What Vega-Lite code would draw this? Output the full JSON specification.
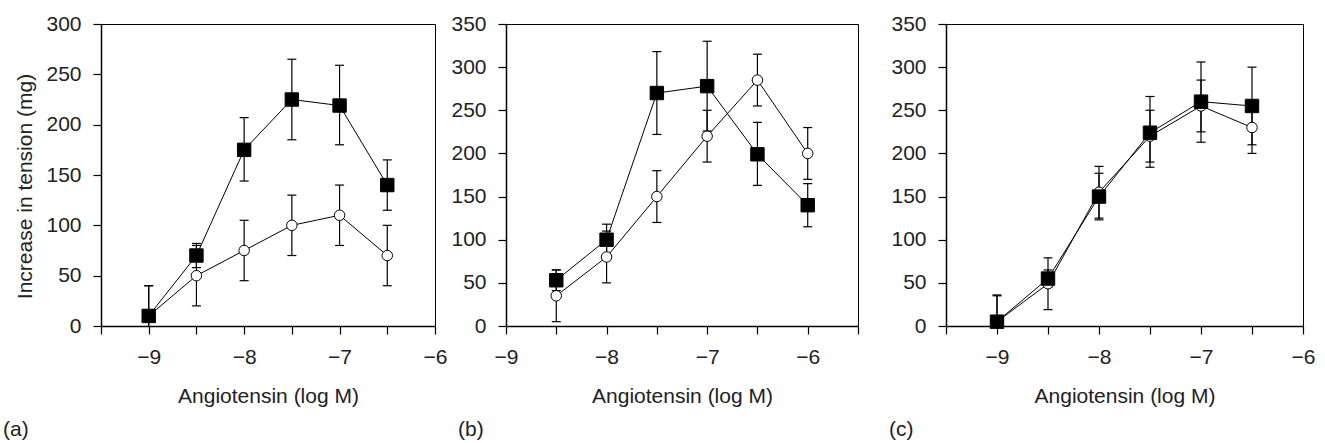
{
  "$schema": "https://vega.github.io/schema/vega-lite/v6.json",
  "background": "white",
  "padding": {"left": 2, "top": 12, "right": 5, "bottom": 2},
  "config": {
    "view": {"stroke": "black", "strokeWidth": 1},
    "axis": {"grid": false, "domainColor": "black", "domainWidth": 1.5, "tickColor": "black", "tickWidth": 1.2, "tickSize": 8, "labelFont": "Liberation Sans", "labelFontSize": 21, "labelColor": "#222", "labelPadding": 12, "labelFlush": false, "labelOverlap": false, "titleFont": "Liberation Sans", "titleFontSize": 21, "titleFontWeight": "normal", "titleColor": "#222"},
    "axisX": {"titlePadding": 18},
    "axisY": {"titlePadding": 10},
    "title": {"font": "Liberation Sans", "fontSize": 21, "fontWeight": "normal", "color": "#222", "orient": "bottom", "anchor": "start", "frame": "group", "offset": 13}
  },
  "datasets": {
    "d": [
      {"p": "a", "g": "c", "x": -9, "y": 10, "lo": -20, "hi": 40},
      {"p": "a", "g": "c", "x": -8.5, "y": 50, "lo": 20, "hi": 80},
      {"p": "a", "g": "c", "x": -8, "y": 75, "lo": 45, "hi": 105},
      {"p": "a", "g": "c", "x": -7.5, "y": 100, "lo": 70, "hi": 130},
      {"p": "a", "g": "c", "x": -7, "y": 110, "lo": 80, "hi": 140},
      {"p": "a", "g": "c", "x": -6.5, "y": 70, "lo": 40, "hi": 100},
      {"p": "a", "g": "s", "x": -9, "y": 10, "lo": -20, "hi": 40},
      {"p": "a", "g": "s", "x": -8.5, "y": 70, "lo": 58, "hi": 82},
      {"p": "a", "g": "s", "x": -8, "y": 175, "lo": 144, "hi": 207},
      {"p": "a", "g": "s", "x": -7.5, "y": 225, "lo": 185, "hi": 265},
      {"p": "a", "g": "s", "x": -7, "y": 219, "lo": 180, "hi": 259},
      {"p": "a", "g": "s", "x": -6.5, "y": 140, "lo": 115, "hi": 165},
      {"p": "b", "g": "c", "x": -8.5, "y": 35, "lo": 5, "hi": 65},
      {"p": "b", "g": "c", "x": -8, "y": 80, "lo": 50, "hi": 110},
      {"p": "b", "g": "c", "x": -7.5, "y": 150, "lo": 120, "hi": 180},
      {"p": "b", "g": "c", "x": -7, "y": 220, "lo": 190, "hi": 250},
      {"p": "b", "g": "c", "x": -6.5, "y": 285, "lo": 255, "hi": 315},
      {"p": "b", "g": "c", "x": -6, "y": 200, "lo": 170, "hi": 230},
      {"p": "b", "g": "s", "x": -8.5, "y": 53, "lo": 41, "hi": 65},
      {"p": "b", "g": "s", "x": -8, "y": 100, "lo": 82, "hi": 118},
      {"p": "b", "g": "s", "x": -7.5, "y": 270, "lo": 222, "hi": 318},
      {"p": "b", "g": "s", "x": -7, "y": 278, "lo": 226, "hi": 330},
      {"p": "b", "g": "s", "x": -6.5, "y": 199, "lo": 163, "hi": 236},
      {"p": "b", "g": "s", "x": -6, "y": 140, "lo": 115, "hi": 165},
      {"p": "c", "g": "c", "x": -9, "y": 5, "lo": -25, "hi": 35},
      {"p": "c", "g": "c", "x": -8.5, "y": 49, "lo": 19, "hi": 79},
      {"p": "c", "g": "c", "x": -8, "y": 155, "lo": 125, "hi": 185},
      {"p": "c", "g": "c", "x": -7.5, "y": 220, "lo": 190, "hi": 250},
      {"p": "c", "g": "c", "x": -7, "y": 255, "lo": 225, "hi": 285},
      {"p": "c", "g": "c", "x": -6.5, "y": 230, "lo": 200, "hi": 260},
      {"p": "c", "g": "s", "x": -9, "y": 5, "lo": -26, "hi": 36},
      {"p": "c", "g": "s", "x": -8.5, "y": 55, "lo": 45, "hi": 65},
      {"p": "c", "g": "s", "x": -8, "y": 150, "lo": 123, "hi": 177},
      {"p": "c", "g": "s", "x": -7.5, "y": 224, "lo": 184, "hi": 266},
      {"p": "c", "g": "s", "x": -7, "y": 260, "lo": 213, "hi": 306},
      {"p": "c", "g": "s", "x": -6.5, "y": 255, "lo": 210, "hi": 300}
    ]
  },
  "spacing": 2,
  "hconcat": [
    {
      "width": 334, "height": 302,
      "title": {"text": "(a)", "dx": -98},
      "data": {"name": "d"},
      "transform": [{"filter": "datum.p === 'a'"}],
      "encoding": {
        "x": {"field": "x", "type": "quantitative", "scale": {"domain": [-9.5, -6], "nice": false, "zero": false}, "axis": {"values": [-9.5, -9, -8.5, -8, -7.5, -7, -6.5, -6], "labelExpr": "datum.value % 1 === 0 ? format(datum.value, 'd') : ''", "title": "Angiotensin (log M)"}}
      },
      "layer": [
        {"mark": {"type": "rule", "color": "black", "strokeWidth": 1.2, "clip": true},
         "encoding": {"y": {"field": "lo", "type": "quantitative", "scale": {"domain": [0, 300], "nice": false, "zero": false}, "axis": {"values": [0, 50, 100, 150, 200, 250, 300], "title": "Increase in tension (mg)", "titleY": 162}}, "y2": {"field": "hi"}}},
        {"mark": {"type": "tick", "orient": "horizontal", "color": "black", "size": 9, "thickness": 1.2, "opacity": 1, "clip": true},
         "encoding": {"y": {"field": "hi", "type": "quantitative", "scale": {"domain": [0, 300], "nice": false, "zero": false}, "axis": {"values": [0, 50, 100, 150, 200, 250, 300], "title": "Increase in tension (mg)", "titleY": 162}}}},
        {"mark": {"type": "tick", "orient": "horizontal", "color": "black", "size": 9, "thickness": 1.2, "opacity": 1, "clip": true},
         "encoding": {"y": {"field": "lo", "type": "quantitative", "scale": {"domain": [0, 300], "nice": false, "zero": false}, "axis": {"values": [0, 50, 100, 150, 200, 250, 300], "title": "Increase in tension (mg)", "titleY": 162}}}},
        {"mark": {"type": "line", "color": "black", "strokeWidth": 1},
         "encoding": {"y": {"field": "y", "type": "quantitative", "scale": {"domain": [0, 300], "nice": false, "zero": false}, "axis": {"values": [0, 50, 100, 150, 200, 250, 300], "title": "Increase in tension (mg)", "titleY": 162}}, "detail": {"field": "g"}}},
        {"transform": [{"filter": "datum.g === 'c'"}],
         "mark": {"type": "point", "shape": "circle", "filled": true, "fill": "white", "stroke": "black", "strokeWidth": 1, "size": 110, "opacity": 1},
         "encoding": {"y": {"field": "y", "type": "quantitative", "scale": {"domain": [0, 300], "nice": false, "zero": false}, "axis": {"values": [0, 50, 100, 150, 200, 250, 300], "title": "Increase in tension (mg)", "titleY": 162}}}},
        {"transform": [{"filter": "datum.g === 's'"}],
         "mark": {"type": "point", "shape": "square", "filled": true, "fill": "black", "stroke": "black", "strokeWidth": 1, "size": 180, "opacity": 1},
         "encoding": {"y": {"field": "y", "type": "quantitative", "scale": {"domain": [0, 300], "nice": false, "zero": false}, "axis": {"values": [0, 50, 100, 150, 200, 250, 300], "title": "Increase in tension (mg)", "titleY": 162}}}}
      ]
    },
    {
      "width": 352, "height": 302,
      "title": {"text": "(b)", "dx": -48},
      "data": {"name": "d"},
      "transform": [{"filter": "datum.p === 'b'"}],
      "encoding": {
        "x": {"field": "x", "type": "quantitative", "scale": {"domain": [-9, -5.5], "nice": false, "zero": false}, "axis": {"values": [-9, -8.5, -8, -7.5, -7, -6.5, -6, -5.5], "labelExpr": "datum.value % 1 === 0 ? format(datum.value, 'd') : ''", "title": "Angiotensin (log M)"}}
      },
      "layer": [
        {"mark": {"type": "rule", "color": "black", "strokeWidth": 1.2, "clip": true},
         "encoding": {"y": {"field": "lo", "type": "quantitative", "scale": {"domain": [0, 350], "nice": false, "zero": false}, "axis": {"values": [0, 50, 100, 150, 200, 250, 300, 350], "title": null}}, "y2": {"field": "hi"}}},
        {"mark": {"type": "tick", "orient": "horizontal", "color": "black", "size": 9, "thickness": 1.2, "opacity": 1, "clip": true},
         "encoding": {"y": {"field": "hi", "type": "quantitative", "scale": {"domain": [0, 350], "nice": false, "zero": false}, "axis": {"values": [0, 50, 100, 150, 200, 250, 300, 350], "title": null}}}},
        {"mark": {"type": "tick", "orient": "horizontal", "color": "black", "size": 9, "thickness": 1.2, "opacity": 1, "clip": true},
         "encoding": {"y": {"field": "lo", "type": "quantitative", "scale": {"domain": [0, 350], "nice": false, "zero": false}, "axis": {"values": [0, 50, 100, 150, 200, 250, 300, 350], "title": null}}}},
        {"mark": {"type": "line", "color": "black", "strokeWidth": 1},
         "encoding": {"y": {"field": "y", "type": "quantitative", "scale": {"domain": [0, 350], "nice": false, "zero": false}, "axis": {"values": [0, 50, 100, 150, 200, 250, 300, 350], "title": null}}, "detail": {"field": "g"}}},
        {"transform": [{"filter": "datum.g === 'c'"}],
         "mark": {"type": "point", "shape": "circle", "filled": true, "fill": "white", "stroke": "black", "strokeWidth": 1, "size": 110, "opacity": 1},
         "encoding": {"y": {"field": "y", "type": "quantitative", "scale": {"domain": [0, 350], "nice": false, "zero": false}, "axis": {"values": [0, 50, 100, 150, 200, 250, 300, 350], "title": null}}}},
        {"transform": [{"filter": "datum.g === 's'"}],
         "mark": {"type": "point", "shape": "square", "filled": true, "fill": "black", "stroke": "black", "strokeWidth": 1, "size": 180, "opacity": 1},
         "encoding": {"y": {"field": "y", "type": "quantitative", "scale": {"domain": [0, 350], "nice": false, "zero": false}, "axis": {"values": [0, 50, 100, 150, 200, 250, 300, 350], "title": null}}}}
      ]
    },
    {
      "width": 357, "height": 302,
      "title": {"text": "(c)", "dx": -57},
      "data": {"name": "d"},
      "transform": [{"filter": "datum.p === 'c'"}],
      "encoding": {
        "x": {"field": "x", "type": "quantitative", "scale": {"domain": [-9.5, -6], "nice": false, "zero": false}, "axis": {"values": [-9.5, -9, -8.5, -8, -7.5, -7, -6.5, -6], "labelExpr": "datum.value % 1 === 0 ? format(datum.value, 'd') : ''", "title": "Angiotensin (log M)"}}
      },
      "layer": [
        {"mark": {"type": "rule", "color": "black", "strokeWidth": 1.2, "clip": true},
         "encoding": {"y": {"field": "lo", "type": "quantitative", "scale": {"domain": [0, 350], "nice": false, "zero": false}, "axis": {"values": [0, 50, 100, 150, 200, 250, 300, 350], "title": null, "minExtent": 83}}, "y2": {"field": "hi"}}},
        {"mark": {"type": "tick", "orient": "horizontal", "color": "black", "size": 9, "thickness": 1.2, "opacity": 1, "clip": true},
         "encoding": {"y": {"field": "hi", "type": "quantitative", "scale": {"domain": [0, 350], "nice": false, "zero": false}, "axis": {"values": [0, 50, 100, 150, 200, 250, 300, 350], "title": null, "minExtent": 83}}}},
        {"mark": {"type": "tick", "orient": "horizontal", "color": "black", "size": 9, "thickness": 1.2, "opacity": 1, "clip": true},
         "encoding": {"y": {"field": "lo", "type": "quantitative", "scale": {"domain": [0, 350], "nice": false, "zero": false}, "axis": {"values": [0, 50, 100, 150, 200, 250, 300, 350], "title": null, "minExtent": 83}}}},
        {"mark": {"type": "line", "color": "black", "strokeWidth": 1},
         "encoding": {"y": {"field": "y", "type": "quantitative", "scale": {"domain": [0, 350], "nice": false, "zero": false}, "axis": {"values": [0, 50, 100, 150, 200, 250, 300, 350], "title": null, "minExtent": 83}}, "detail": {"field": "g"}}},
        {"transform": [{"filter": "datum.g === 'c'"}],
         "mark": {"type": "point", "shape": "circle", "filled": true, "fill": "white", "stroke": "black", "strokeWidth": 1, "size": 110, "opacity": 1},
         "encoding": {"y": {"field": "y", "type": "quantitative", "scale": {"domain": [0, 350], "nice": false, "zero": false}, "axis": {"values": [0, 50, 100, 150, 200, 250, 300, 350], "title": null, "minExtent": 83}}}},
        {"transform": [{"filter": "datum.g === 's'"}],
         "mark": {"type": "point", "shape": "square", "filled": true, "fill": "black", "stroke": "black", "strokeWidth": 1, "size": 180, "opacity": 1},
         "encoding": {"y": {"field": "y", "type": "quantitative", "scale": {"domain": [0, 350], "nice": false, "zero": false}, "axis": {"values": [0, 50, 100, 150, 200, 250, 300, 350], "title": null, "minExtent": 83}}}}
      ]
    }
  ]
}
